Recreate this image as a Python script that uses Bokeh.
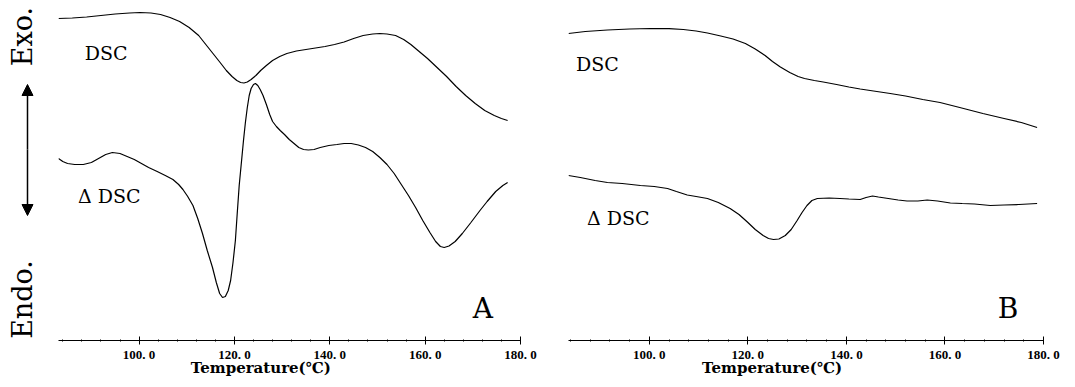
import numpy as np
from bokeh.plotting import figure
from bokeh.layouts import row
from bokeh.models import Range1d, FixedTicker, Arrow, NormalHead
from bokeh.embed import file_html
from bokeh.resources import INLINE
from bokeh.core.properties import value

# ---------------- data (temperature in degC, signal in arbitrary units) ----------------
# Panel A
a_dsc_T = [83.1, 86, 89, 92, 95, 98, 100.2, 102.5, 104.5, 106.5, 108.5, 110.5, 112.5, 114,
           115.5, 117, 118.3, 119.5, 120.5, 121.3, 122.0, 122.7, 123.5, 124.5, 125.5, 126.7,
           128, 129.5, 131, 133, 135, 137, 139, 141, 143, 145, 147, 149, 150.5, 152, 153.8,
           155.5, 157, 158.5, 160.5, 162.5, 164.5, 166.5, 168.5, 170.5, 172.5, 174.5, 176, 177.3]
a_dsc_y = [322, 322.5, 323.5, 325, 326.5, 327.5, 328, 327.5, 326, 323, 319, 313, 305, 296,
           287, 278, 270, 264, 260, 258, 257.5, 258.5, 261, 265, 270, 275,
           280, 284, 287, 289.5, 291, 292.5, 294, 296, 298.5, 302, 305, 306.5, 307, 306.5, 305,
           301, 296, 290, 282, 273, 264, 254, 245, 237, 230, 225, 222, 220]

a_ddsc_T = [83.1, 84.0, 85.0, 86.5, 88.3, 90.0, 91.5, 93.0, 94.4, 96.0, 97.5, 99.0, 100.5,
            102.0, 103.8, 105.5, 107.1, 108.3, 109.2, 110.2, 111.3, 112.3, 113.3, 114.3, 115.4,
            116.2, 116.9, 117.5, 118.1, 118.7, 119.2, 119.7, 120.2, 120.6, 121.0, 121.5, 121.9,
            122.3, 122.7, 123.1, 123.5, 124.0, 124.4, 124.9, 125.4, 126.0, 126.7, 127.4, 128.0,
            128.8, 129.6, 130.5, 131.5, 132.5, 133.5, 134.5, 135.5, 136.7, 138.0, 139.8, 141.5,
            143.0, 144.5, 146.0, 147.5, 149.0, 150.5, 152.0, 153.5, 155.0, 156.5, 158.0, 159.5,
            161.0, 162.2, 163.2, 164.0, 165.0, 166.3, 167.8, 169.6, 171.5, 173.0, 174.8, 176.3,
            177.3]
a_ddsc_y = [182, 179, 177, 176, 176, 178, 182, 186, 188, 187, 184, 181, 177,
            173, 169, 165, 161, 156, 151, 144, 135, 122, 107, 90, 73,
            58, 47, 43, 44, 50, 60, 78, 100, 128, 155, 180, 200,
            218, 233, 245, 252, 256, 257, 255, 251, 245, 236, 226, 219,
            214, 210, 206, 201, 197, 193, 191, 190.5, 191, 193, 195, 196,
            197, 197, 195.5, 193, 189, 183, 176, 167, 156, 145, 133, 120,
            108, 99, 94, 93, 94.5, 99, 107, 118, 130, 139, 149, 155,
            158]

# Panel B
b_dsc_T = [83.6, 87, 91.5, 96, 100.2, 104, 106.9, 109.5, 111.8, 114.5, 117.0, 119.5, 121.5,
           123.5, 125, 126.6, 128.5, 130.2, 131.5, 133.5, 135.3, 138, 140.5, 142.8, 145.5,
           148.9, 152, 155.5, 159.0, 163, 167.7, 172, 175.5, 178.7]
b_dsc_y = [307, 309, 310.5, 311.5, 312, 311.8, 311, 309.5, 307.5, 304.5, 301.5, 297, 291.5,
           285, 279, 273.5, 268, 264, 262, 260, 258.5, 256, 253.5, 251.5, 249.5,
           247, 244.5, 241, 238, 233, 227, 222, 218, 213]

b_ddsc_T = [83.6, 86, 89, 91.5, 94.5, 98.2, 101, 103.7, 105.5, 107.7, 109.5, 111.8, 114,
            116.4, 118.2, 119.9, 121.5, 123.1, 124.2, 125.2, 126.3, 127.6, 128.8, 130.0, 131.0,
            132.0, 133.0, 134.1, 136.5, 138.7, 140.5, 142.8, 144.0, 145.3, 146.5, 148.5, 150.5,
            152.3, 154.5, 156.4, 158.5, 161.1, 163.5, 166, 169.2, 172, 175, 178.7]
b_ddsc_y = [165, 163, 160, 158, 157, 155, 154, 152, 149, 145.5, 144, 142, 138,
            132, 126, 118.5, 111, 105, 102, 101, 101.5, 105, 111, 120, 128,
            135, 140, 142, 142.5, 142, 141.5, 141, 143, 144.5, 143.5, 142, 140.5,
            139.5, 139.5, 140.5, 139.5, 137.5, 137, 136.5, 135, 135.5, 136, 137]

major_ticks = [100, 120, 140, 160, 180]
minor_ticks = [84, 88, 92, 96, 104, 108, 112, 116, 124, 128, 132, 136, 144, 148, 152, 156,
               164, 168, 172, 176]
tick_labels = ["100. 0", "120. 0", "140. 0", "160. 0", "180. 0"]
x_title = "Temperature(℃)"
curve_names = ["DSC", "Δ DSC"]
panel_letters = ["A", "B"]
y_ends = ["Exo.", "Endo."]

SERIF = "DejaVu Serif"
H = 387
FRAME_H = 340
NBSP = "\u00a0"


def make_panel(width, left, right, xstart, series, names, name_pos, letter, letter_pos, pad):
    p = figure(width=width, height=H, x_range=Range1d(xstart, 180), y_range=Range1d(0, FRAME_H),
               output_backend="svg", toolbar_location=None, y_axis_location=None,
               min_border_left=left, min_border_right=right, min_border_top=0,
               min_border_bottom=H - FRAME_H)
    p.grid.visible = False
    p.outline_line_color = None
    p.background_fill_color = "white"
    p.border_fill_color = "white"
    for T, y in series:
        p.line(T, y, line_color="black", line_width=1.2)
    for nm, (tx, ty) in zip(names, name_pos):
        p.text([tx], [ty], text=[nm], text_font=value(SERIF), text_font_size="19px",
               text_align="center", text_baseline="middle", text_color="black")
    p.text([letter_pos[0]], [letter_pos[1]], text=[letter], text_font=value(SERIF),
           text_font_size="28px", text_align="center", text_baseline="middle", text_color="black")
    ax = p.xaxis[0]
    ax.ticker = FixedTicker(ticks=major_ticks, minor_ticks=minor_ticks)
    ax.major_label_overrides = {t: l for t, l in zip(major_ticks, tick_labels)}
    ax.major_label_text_font = "Liberation Serif"
    ax.major_label_text_font_style = "bold"
    ax.major_label_text_font_size = "13px"
    ax.major_label_text_color = "black"
    ax.major_label_standoff = 2
    ax.axis_line_color = "black"
    ax.major_tick_in = 4
    ax.major_tick_out = 4
    ax.minor_tick_in = 1
    ax.minor_tick_out = 1
    ax.major_tick_line_color = "black"
    ax.minor_tick_line_color = "black"
    # title shifted left of the frame centre, as in the original figure
    ax.axis_label = x_title + NBSP * pad
    ax.axis_label_text_font = SERIF
    ax.axis_label_text_font_style = "bold"
    ax.axis_label_text_font_size = "15px"
    ax.axis_label_text_color = "black"
    ax.axis_label_standoff = -6
    return p


pa = make_panel(500, 10, 28, 83.1, [(a_dsc_T, a_dsc_y), (a_ddsc_T, a_ddsc_y)], curve_names,
                [(93.1, 288), (93.75, 145)], panel_letters[0], (172.1, 32), 11)
pb = make_panel(527, 20, 32, 83.6, [(b_dsc_T, b_dsc_y), (b_ddsc_T, b_ddsc_y)], curve_names,
                [(89.45, 277), (93.7, 123)], panel_letters[1], (172.8, 32), 13)

# y-direction label panel (its frame is aligned with the panels' frames: page y 0..340)
pl = figure(width=48, height=H, x_range=Range1d(0, 48), y_range=Range1d(H - FRAME_H, H),
            output_backend="svg", toolbar_location=None, min_border=0,
            min_border_bottom=H - FRAME_H, x_axis_location=None, y_axis_location=None)
pl.grid.visible = False
pl.outline_line_color = None
pl.text([22], [351], text=[y_ends[0]], angle=np.pi / 2, text_font=value(SERIF),
        text_font_size="27px", text_align="center", text_baseline="middle", text_color="black")
pl.text([22], [88], text=[y_ends[1]], angle=np.pi / 2, text_font=value(SERIF),
        text_font_size="27px", text_align="center", text_baseline="middle", text_color="black")
pl.add_layout(Arrow(x_start=27, y_start=238, x_end=27, y_end=303,
                    end=NormalHead(size=11, fill_color="black", line_color="black"),
                    line_color="black", line_width=1.5))
pl.add_layout(Arrow(x_start=27, y_start=238, x_end=27, y_end=172,
                    end=NormalHead(size=11, fill_color="black", line_color="black"),
                    line_color="black", line_width=1.5))

layout = row(pl, pa, pb)
open("out.html", "w").write(file_html(layout, INLINE))
